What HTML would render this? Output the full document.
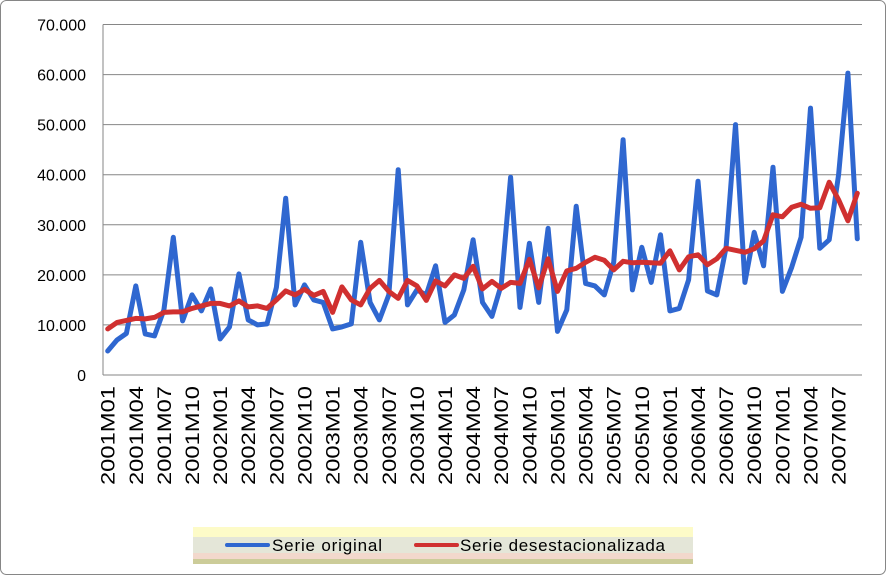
<!DOCTYPE html>
<html><head><meta charset="utf-8"><style>
html,body{margin:0;padding:0;background:#fff;}
svg{display:block;font-family:"Liberation Sans",sans-serif;}
</style></head><body>
<svg id="chart" width="886" height="576" viewBox="0 0 886 576">
<rect x="0.5" y="0.5" width="885" height="574" rx="6" fill="#fff" stroke="#868686"/>
<g id="grid"></g>
<g id="yticks"></g>
<g id="xticks"></g>
<g id="series"></g>
<g>
<rect x="193" y="527" width="500" height="10" fill="#fdfbc8"/>
<rect x="193" y="537" width="500" height="16" fill="#e4e6d8"/>
<rect x="193" y="553" width="500" height="6" fill="#f2d8cc"/>
<rect x="193" y="559" width="500" height="5" fill="#cccc99"/>
<line x1="227" y1="545" x2="268" y2="545" stroke="#2f67d0" stroke-width="4" stroke-linecap="round"/>
<text x="272" y="551" font-size="17" textLength="110" fill="#000">Serie original</text>
<line x1="416" y1="545" x2="457" y2="545" stroke="#d03030" stroke-width="4" stroke-linecap="round"/>
<text x="460" y="551" font-size="17" textLength="205" fill="#000">Serie desestacionalizada</text>
</g>
</svg>
<script>
const yTickLabels = ["0","10.000","20.000","30.000","40.000","50.000","60.000","70.000"];
const yTickValues = [0,10000,20000,30000,40000,50000,60000,70000];
const original = [4800,7000,8300,17800,8200,7800,13000,27500,10800,16000,12800,17200,7200,9600,20200,11000,10000,10200,17500,35300,14000,18000,15000,14500,9200,9600,10200,26500,14500,11000,16000,41000,14000,17000,16000,21800,10500,12000,17000,27000,14500,11700,18000,39500,13500,26300,14500,29300,8700,13000,33700,18300,17800,16000,22500,47000,17000,25500,18500,28000,12800,13300,19000,38700,16800,16000,25500,50000,18500,28500,21800,41500,16700,21500,27500,53300,25300,27000,40000,60300,27200];
const deseasonalized = [9200,10500,10900,11300,11200,11500,12500,12600,12600,13300,13800,14300,14300,13800,14800,13600,13800,13300,15000,16800,16000,17100,15900,16700,12500,17600,15000,14000,17300,18900,16700,15300,18900,17800,14900,18800,17800,20000,19300,21700,17200,18700,17300,18500,18300,23100,17400,23200,16700,20800,21300,22500,23500,22900,21000,22700,22400,22500,22400,22300,24800,21000,23600,24000,22000,23200,25300,24900,24500,25200,26800,32000,31600,33500,34100,33300,33400,38500,35000,30800,36300];
const categories = [];
for (let y = 2001; y <= 2007; y++) for (let m = 1; m <= 12; m++) categories.push(y + "M" + (m < 10 ? "0" + m : m));
categories.length = original.length;

const NS = "http://www.w3.org/2000/svg";
const X0 = 103, X1 = 862, Y0 = 375, Y1 = 24.5, YMAX = 70000;
const bw = (X1 - X0) / categories.length;
const xs = i => X0 + bw * (i + 0.5);
const ys = v => Y0 - (v / YMAX) * (Y0 - Y1);
function mk(tag, attrs, parent) { const e = document.createElementNS(NS, tag); for (const k in attrs) e.setAttribute(k, attrs[k]); parent.appendChild(e); return e; }

const grid = document.getElementById('grid');
yTickValues.forEach((v, i) => {
  const l = mk('line', {x1: X0, x2: X1, y1: ys(v), y2: ys(v), stroke: '#868686', 'stroke-width': 1}, grid);
  
  
  const t = mk('text', {x: 86, y: ys(v) + 6, 'text-anchor': 'end', 'font-size': 16, fill: '#000'}, document.getElementById('yticks'));
  t.textContent = yTickLabels[i];
  
  
});
const ax = mk('line', {x1: X0, x2: X0, y1: Y1, y2: Y0, stroke: '#868686', 'stroke-width': 1}, grid);



const xt = document.getElementById('xticks');
categories.forEach((c, i) => {
  if (i % 3 !== 0) return;
  const x = xs(i) + 7, y = 386;
  const t = mk('text', {x: x, y: y, 'text-anchor': 'end', 'font-size': 19, fill: '#000', textLength: 99, lengthAdjust: 'spacingAndGlyphs', transform: `rotate(-90 ${x} ${y})`}, xt);
  t.textContent = c;
  
  
});

const sg = document.getElementById('series');
function line(data, color, name) {
  const p = mk('polyline', {points: data.map((v, i) => xs(i).toFixed(1) + ',' + ys(v).toFixed(1)).join(' '), fill: 'none', stroke: color, 'stroke-width': 5, 'stroke-linejoin': 'round', 'stroke-linecap': 'round'}, sg);
  
  
}
line(original, '#2f67d0', 'series-original-line');
line(deseasonalized, '#d03030', 'series-deseasonalized-line');
</script>
</body></html>
